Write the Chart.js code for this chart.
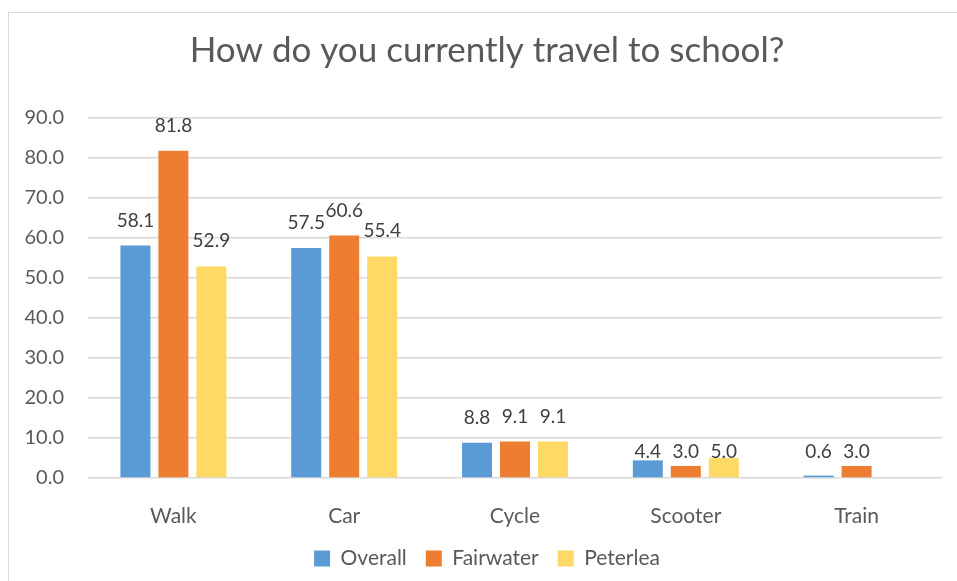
<!DOCTYPE html>
<html lang="en">
<head>
    <meta charset="UTF-8">
    <title>How do you currently travel to school?</title>
    <script src="https://cdn.jsdelivr.net/npm/chart.js"></script>
    <style>
        body {
            margin: 0;
            background: #fff;
            overflow: hidden;
            font-family: Lato, sans-serif;
        }
        .frame {
            position: absolute;
            left: 8px;
            top: 12px;
            width: 960px;
            height: 600px;
            border-left: 1.5px solid #d9d9d9;
            border-top: 1.5px solid #d9d9d9;
            background: #fff;
        }
        #chart {
            position: absolute;
            left: 0.5px;
            top: 0.5px;
        }
    </style>
</head>
<body>
    <div class="frame">
        <canvas id="chart" width="947" height="565"></canvas>
    </div>

    <script>
        // Data
        const modes = ['Walk', 'Car', 'Cycle', 'Scooter', 'Train'];
        const overall = [58.1, 57.5, 8.8, 4.4, 0.6];
        const fairwater = [81.8, 60.6, 9.1, 3.0, 3.0];
        const peterlea = [52.9, 55.4, 9.1, 5.0, null];

        const textColor = '#595959';

        // Value labels above each bar (the small ones sit on a common line, as in the original)
        const valueLabels = {
            id: 'valueLabels',
            afterDatasetsDraw(chart) {
                const ctx = chart.ctx;
                const yScale = chart.scales.y;
                const lane = yScale.getPixelForValue(5);
                ctx.save();
                ctx.font = '19px Lato, sans-serif';
                ctx.fillStyle = '#404040';
                ctx.textAlign = 'center';
                ctx.textBaseline = 'alphabetic';
                chart.data.datasets.forEach((ds, i) => {
                    chart.getDatasetMeta(i).data.forEach((bar, j) => {
                        const v = ds.data[j];
                        if (v === null || v === undefined) return;
                        const y = v < 6 ? lane : bar.y - 19;
                        ctx.fillText(v.toFixed(1), bar.x, y);
                    });
                });
                ctx.restore();
            }
        };

        // let the y tick labels spill into the left padding instead of being clipped
        const widenYLabels = {
            id: 'widenYLabels',
            afterLayout(chart) {
                chart.scales.y.left = 0;
            }
        };

        var ctx = document.getElementById('chart').getContext('2d');
        var chart = new Chart(ctx, {
            type: 'bar',
            data: {
                labels: modes,
                datasets: [{
                    label: 'Overall',
                    data: overall,
                    backgroundColor: '#5B9BD5'
                }, {
                    label: 'Fairwater',
                    data: fairwater,
                    backgroundColor: '#ED7D31'
                }, {
                    label: 'Peterlea',
                    data: peterlea,
                    backgroundColor: '#FFD966'
                }]
            },
            options: {
                responsive: false,
                animation: false,
                categoryPercentage: 0.667,
                barPercentage: 0.79,
                layout: {
                    padding: { left: 22, right: 15, top: 16, bottom: 0 }
                },
                plugins: {
                    title: {
                        display: true,
                        text: 'How do you currently travel to school?',
                        color: textColor,
                        font: { family: 'Lato, sans-serif', size: 35, weight: 'normal' },
                        padding: { top: 0, bottom: 46 }
                    },
                    legend: {
                        position: 'bottom',
                        labels: {
                            color: textColor,
                            font: { family: 'Lato, sans-serif', size: 21 },
                            boxWidth: 16,
                            boxHeight: 16,
                            padding: 19
                        }
                    },
                    tooltip: { enabled: false }
                },
                scales: {
                    x: {
                        afterFit: (scale) => { scale.height = 51; },
                        grid: { display: false, drawTicks: false },
                        border: { display: false },
                        ticks: {
                            color: textColor,
                            font: { family: 'Lato, sans-serif', size: 21 },
                            padding: 26
                        }
                    },
                    y: {
                        min: 0,
                        max: 90,
                        afterFit: (scale) => { scale.width = 56; },
                        grid: { color: '#d9d9d9', lineWidth: 1.5, drawTicks: false },
                        border: { display: false },
                        ticks: {
                            stepSize: 10,
                            color: textColor,
                            font: { family: 'Lato, sans-serif', size: 20 },
                            padding: 24,
                            callback: (v) => v.toFixed(1)
                        }
                    }
                }
            },
            plugins: [valueLabels, widenYLabels]
        });
    </script>
</body>
</html>
